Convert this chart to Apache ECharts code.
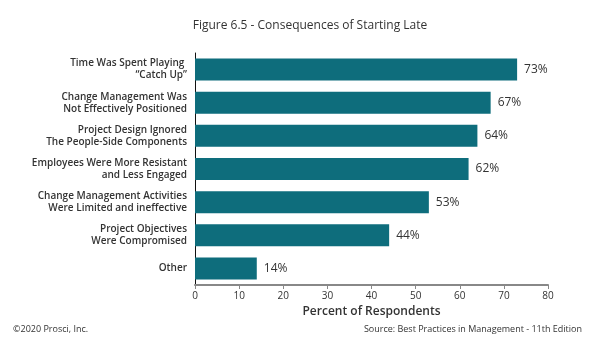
<!DOCTYPE html>
<html><head><meta charset="utf-8">
<script src="https://cdn.jsdelivr.net/npm/echarts@6/dist/echarts.min.js"></script>
<style>html,body{margin:0;padding:0;background:#fff}#c{width:600px;height:342px}</style>
</head><body><div id="c"></div>
<script>
const categories = [
  "Time Was Spent Playing \n\u201cCatch Up\u201d",
  "Change Management Was\nNot Effectively Positioned",
  "Project Design Ignored\nThe People-Side Components",
  "Employees Were More Resistant\nand Less Engaged",
  "Change Management Activities\nWere Limited and ineffective",
  "Project Objectives\nWere Compromised",
  "Other"
];
const values = [73, 67, 64, 62, 53, 44, 14];
const xTicks = [0, 10, 20, 30, 40, 50, 60, 70, 80];

const chart = echarts.init(document.getElementById('c'), null, {renderer: 'canvas'});
const F = '"Open Sans", sans-serif';
chart.setOption({
  animation: false,
  textStyle: {fontFamily: F},
  title: [
    {text: 'Figure 6.5 - Consequences of Starting Late', left: 305, top: 15, textAlign: 'center',
     textStyle: {fontFamily: F, fontSize: 12, fontWeight: 'normal', color: '#333'}},
    {text: '\u00a92020 Prosci, Inc.', left: 8, top: 320,
     textStyle: {fontFamily: F, fontSize: 9, fontWeight: 'normal', color: '#333'}},
    {text: 'Source: Best Practices in Management - 11th Edition', right: 13, top: 320,
     textStyle: {fontFamily: F, fontSize: 9, fontWeight: 'normal', color: '#333'}}
  ],
  grid: {left: 195, right: 52, top: 53, bottom: 57, containLabel: false},
  xAxis: {
    type: 'value', min: xTicks[0], max: xTicks[xTicks.length - 1], interval: 10,
    name: 'Percent of Respondents', nameLocation: 'middle', nameGap: 19,
    nameTextStyle: {fontFamily: F, fontSize: 12, fontWeight: 600, color: '#333'},
    axisLine: {show: true, lineStyle: {color: '#888', width: 2}},
    axisTick: {show: true, length: 4, lineStyle: {color: '#888'}},
    axisLabel: {fontFamily: F, fontSize: 10, color: '#333', margin: 6},
    splitLine: {show: false}
  },
  yAxis: {
    type: 'category', data: categories, inverse: true,
    axisLine: {show: true, lineStyle: {color: '#111', width: 1}},
    axisTick: {show: false},
    axisLabel: {fontFamily: F, fontSize: 10, fontWeight: 600, color: '#333', margin: 8,
      lineHeight: 12, align: 'right'}
  },
  series: [{
    type: 'bar', data: values, barWidth: 22,
    itemStyle: {color: '#0e6d7c'},
    label: {show: true, position: 'right', distance: 7, formatter: '{c}%',
      fontFamily: F, fontSize: 12, color: '#333'}
  }]
});
</script></body></html>
